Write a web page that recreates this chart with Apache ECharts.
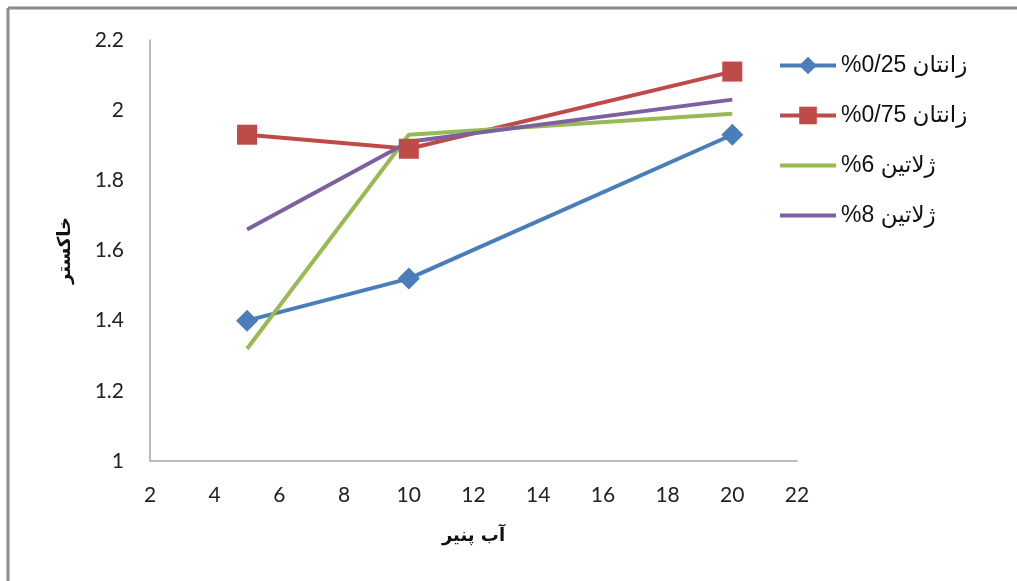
<!DOCTYPE html>
<html>
<head>
<meta charset="utf-8">
<script src="https://cdn.jsdelivr.net/npm/echarts@6/dist/echarts.min.js"></script>
<style>
html, body { margin: 0; padding: 0; background: #fff; }
#chart { width: 1017px; height: 581px; }
</style>
</head>
<body>
<div id="chart"></div>
<script>
// داده‌ها
var xValues = [5, 10, 20];
var seriesNames = ['%0/25 زانتان', '%0/75 زانتان', '%6 ژلاتین', '%8 ژلاتین'];
var xanthan025 = [1.40, 1.52, 1.93];
var xanthan075 = [1.93, 1.89, 2.11];
var gelatin6 = [1.32, 1.93, 1.99];
var gelatin8 = [1.66, 1.91, 2.03];
var xTicks = [2, 22, 2];     // min, max, interval
var yTicks = [1, 2.2, 0.2];

window.onload = function() {
	var myChart = echarts.init(document.getElementById('chart'));

	function pairs(ys) {
		return xValues.map(function(x, i) { return [x, ys[i]]; });
	}

	var labelFont = 'Lato, "Open Sans", "DejaVu Sans", sans-serif';
	var option = {
		backgroundColor: '#fff',
		animation: false,
		graphic: [
			{ type: 'line', shape: { x1: 8, y1: 8, x2: 1017, y2: 8 }, style: { stroke: '#8c8c8c', lineWidth: 3 } },
			{ type: 'line', shape: { x1: 8, y1: 8, x2: 8, y2: 581 }, style: { stroke: '#8c8c8c', lineWidth: 3 } }
		],
		grid: { left: 150, top: 40, right: 220, bottom: 120 },
		legend: {
			orient: 'vertical',
			left: 773,
			top: 49,
			itemWidth: 56,
			itemHeight: 22,
			itemGap: 27,
			lineStyle: { width: 4 },
			textStyle: { fontSize: 23, color: '#111', fontFamily: '"Liberation Sans", "DejaVu Sans", sans-serif' },
			data: [
				{ name: seriesNames[0] },
				{ name: seriesNames[1] },
				{ name: seriesNames[2], itemStyle: { opacity: 0 } },
				{ name: seriesNames[3], itemStyle: { opacity: 0 } }
			]
		},
		xAxis: {
			type: 'value',
			min: xTicks[0], max: xTicks[1], interval: xTicks[2],
			name: 'آب پنیر',
			nameLocation: 'middle',
			nameGap: 66,
			nameTextStyle: { fontSize: 18, fontWeight: 'bold', color: '#111', fontFamily: '"DejaVu Sans", sans-serif' },
			axisLine: { lineStyle: { color: '#a6a6a6', width: 1.5 } },
			axisTick: { show: false },
			splitLine: { show: false },
			axisLabel: { fontSize: 21, color: '#222', margin: 24, fontFamily: labelFont }
		},
		yAxis: {
			type: 'value',
			min: yTicks[0], max: yTicks[1], interval: yTicks[2],
			name: 'خاکستر',
			nameLocation: 'middle',
			nameGap: 76,
			nameRotate: 90,
			nameTextStyle: { fontSize: 18, fontWeight: 'bold', color: '#111', fontFamily: '"DejaVu Sans", sans-serif' },
			axisLine: { show: true, lineStyle: { color: '#a6a6a6', width: 1.5 } },
			axisTick: { show: false },
			splitLine: { show: false },
			axisLabel: { fontSize: 21, color: '#222', margin: 26, fontFamily: labelFont }
		},
		series: [
			{
				name: seriesNames[0], type: 'line', data: pairs(xanthan025),
				symbol: 'diamond', symbolSize: 22,
				lineStyle: { width: 4, color: '#4a7ebb' },
				itemStyle: { color: '#4a7ebb' }
			},
			{
				name: seriesNames[1], type: 'line', data: pairs(xanthan075),
				symbol: 'rect', symbolSize: 20,
				lineStyle: { width: 4, color: '#be4b48' },
				itemStyle: { color: '#be4b48' }
			},
			{
				name: seriesNames[2], type: 'line', data: pairs(gelatin6),
				symbol: 'none',
				lineStyle: { width: 4, color: '#98b954' },
				itemStyle: { color: '#98b954' }
			},
			{
				name: seriesNames[3], type: 'line', data: pairs(gelatin8),
				symbol: 'none',
				lineStyle: { width: 4, color: '#7d60a0' },
				itemStyle: { color: '#7d60a0' }
			}
		]
	};
	myChart.setOption(option);
}
</script>
</body>
</html>
